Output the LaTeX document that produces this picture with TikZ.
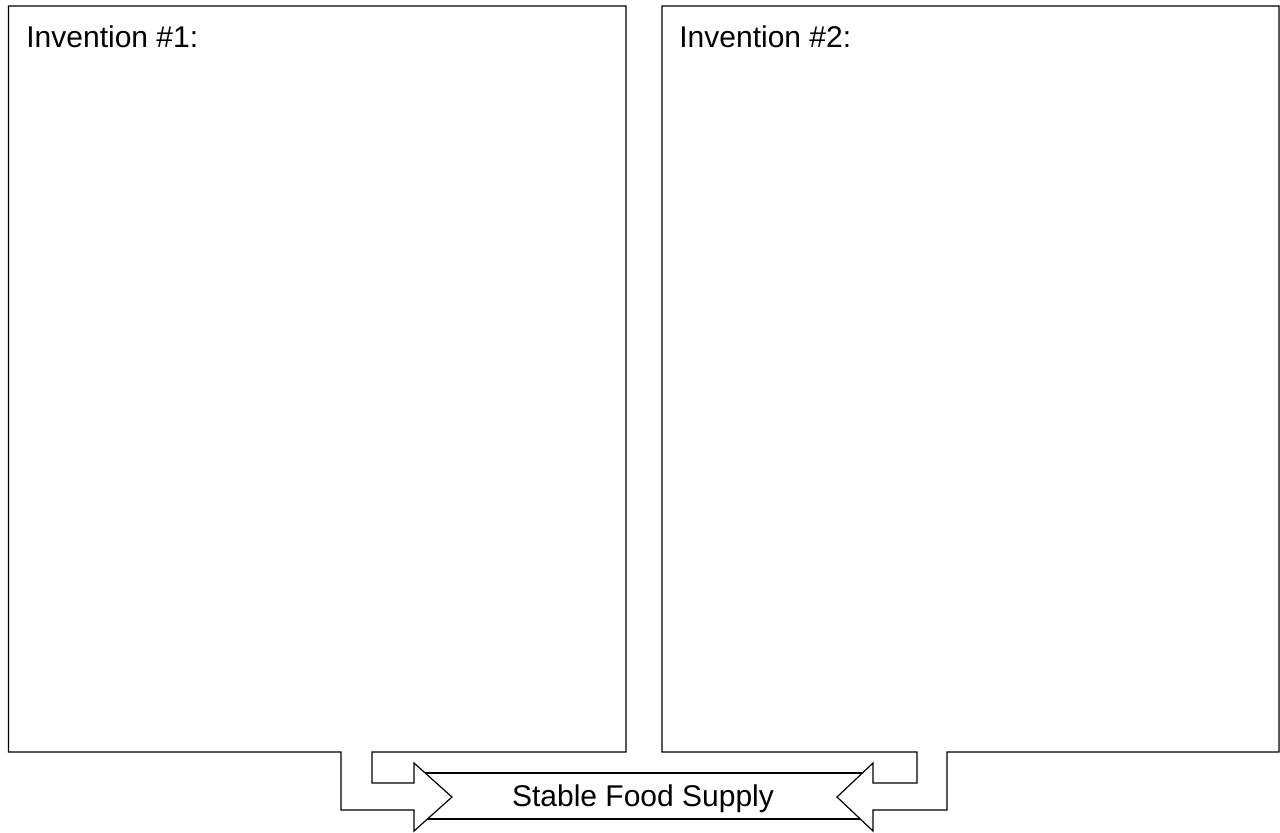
\documentclass[tikz,border=0pt]{standalone}
\usepackage{fontspec}
\setmainfont{Liberation Sans}
\tikzset{every picture/.append style={x=0.5pt, y=-0.5pt}}
\tikzset{
    outline/.style={draw, fill=white, line width=0.6pt, line join=miter},
    heading/.style={anchor=base west, inner sep=0pt,
    	font=\fontsize{15}{18}\selectfont},
    band/.style={draw, line width=0.6pt, inner sep=0pt, text depth=0pt,
    	minimum width=225pt, minimum height=23pt,
    	font=\fontsize{15}{18}\selectfont}
}

\begin{document}
\begin{tikzpicture}
  \useasboundingbox (0,0) rectangle (1280,832);

  \node (supply) [band] at (643,796) {Stable Food Supply};

  % left box, its outline runs into the right-pointing arrow
  \draw[outline] (8.5,6) -- (626,6) -- (626,752) -- (372,752) -- (372,783)
    -- (414,783) -- (414,763) -- (452,797) -- (414,831) -- (414,810)
    -- (341,810) -- (341,752) -- (8.5,752) -- cycle;
  % right box, its outline runs into the left-pointing arrow
  \draw[outline] (662,6) -- (1279,6) -- (1279,752) -- (947,752) -- (947,810)
    -- (873,810) -- (873,831) -- (837,797) -- (873,763) -- (873,783)
    -- (917,783) -- (917,752) -- (662,752) -- cycle;

  \node (inv1) [heading] at (26,47) {Invention \#1:};
  \node (inv2) [heading] at (679,47) {Invention \#2:};

\end{tikzpicture}
\end{document}
